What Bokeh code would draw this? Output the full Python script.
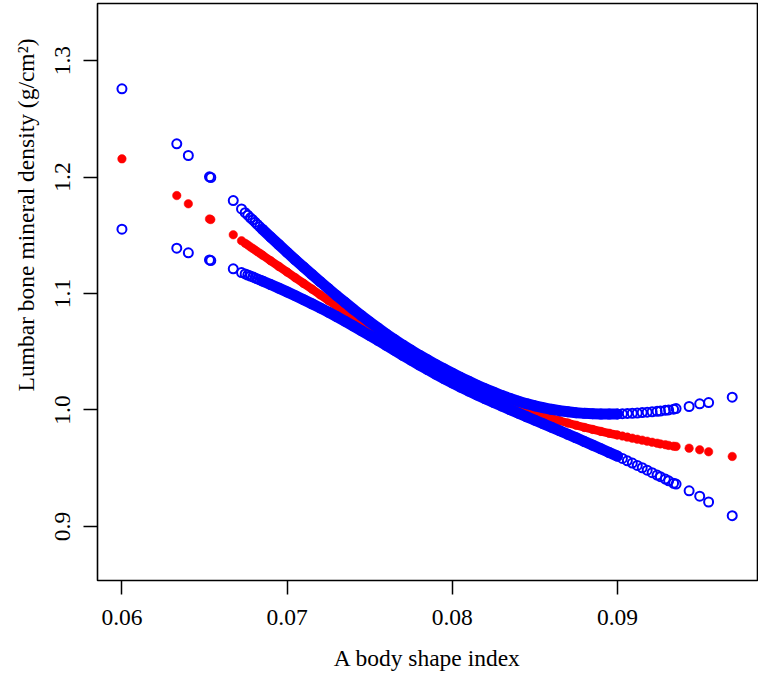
from bokeh.plotting import figure
from bokeh.models import Range1d, FixedTicker, NumeralTickFormatter, Title
from bokeh.embed import file_html
from bokeh.resources import INLINE

# A body shape index (x) and fitted lumbar BMD with 95% confidence limits
absi = [0.06000, 0.06332, 0.06402, 0.06530, 0.06538, 0.06674,
        0.06724, 0.06746, 0.06762, 0.06778, 0.06792, 0.06806, 0.06820, 0.06835,
        0.0685, 0.0690, 0.0695, 0.0700, 0.0705, 0.0710, 0.0715, 0.0720, 0.0725,
        0.0730, 0.0735, 0.0740, 0.0745, 0.0750, 0.0755, 0.0760, 0.0765, 0.0770,
        0.0775, 0.0780, 0.0785, 0.0790, 0.0795, 0.0800, 0.0805, 0.0810, 0.0815,
        0.0820, 0.0825, 0.0830, 0.0835, 0.0840, 0.0845, 0.0850, 0.0855, 0.0860,
        0.0865, 0.0870, 0.0875, 0.0880, 0.0885, 0.0890, 0.0895, 0.0900,
        0.0903, 0.0906, 0.0909, 0.0912, 0.0915, 0.0918, 0.0921, 0.0924, 0.0926,
        0.0929, 0.0931, 0.0934, 0.09355,
        0.09434, 0.09498, 0.09552, 0.09695]

bmd_fit = [1.2156, 1.1841, 1.1770, 1.1640, 1.1635, 1.1504,
           1.1453, 1.1431, 1.1416, 1.1400, 1.1387, 1.1373, 1.1359, 1.1345,
           1.1330, 1.1281, 1.1233, 1.1184, 1.1135, 1.1087, 1.1038, 1.0989, 1.0941,
           1.0892, 1.0843, 1.0794, 1.0746, 1.0698, 1.0651, 1.0604, 1.0559, 1.0514,
           1.0471, 1.0429, 1.0389, 1.0349, 1.0311, 1.0274, 1.0238, 1.0204, 1.0171,
           1.0139, 1.0109, 1.0079, 1.0051, 1.0024, 0.9998, 0.9974, 0.9951, 0.9929,
           0.9908, 0.9888, 0.9869, 0.9850, 0.9833, 0.9816, 0.9800, 0.9785,
           0.9776, 0.9767, 0.9758, 0.9749, 0.9741, 0.9732, 0.9723, 0.9715, 0.9709,
           0.9702, 0.9696, 0.9689, 0.9687,
           0.9672, 0.9658, 0.9641, 0.9601]

bmd_upper = [1.2757, 1.2285, 1.2185, 1.2002, 1.1996, 1.1798,
             1.1726, 1.1694, 1.1673, 1.1650, 1.1632, 1.1612, 1.1593, 1.1573,
             1.1552, 1.1485, 1.1420, 1.1354, 1.1289, 1.1227, 1.1164, 1.1102, 1.1042,
             1.0982, 1.0924, 1.0866, 1.0811, 1.0756, 1.0704, 1.0653, 1.0605, 1.0558,
             1.0514, 1.0471, 1.0431, 1.0391, 1.0353, 1.0316, 1.0280, 1.0246, 1.0213,
             1.0182, 1.0153, 1.0124, 1.0099, 1.0075, 1.0054, 1.0036, 1.0020, 1.0006,
             0.9994, 0.9985, 0.9977, 0.9971, 0.9968, 0.9965, 0.9965, 0.9966,
             0.9968, 0.9970, 0.9972, 0.9974, 0.9978, 0.9981, 0.9984, 0.9989, 0.9991,
             0.9997, 1.0000, 1.0007, 1.0012,
             1.0030, 1.0053, 1.0064, 1.0110]

bmd_lower = [1.1552, 1.1389, 1.1349, 1.1288, 1.1283, 1.1212,
             1.1180, 1.1168, 1.1159, 1.1150, 1.1142, 1.1134, 1.1125, 1.1117,
             1.1108, 1.1077, 1.1046, 1.1014, 1.0981, 1.0947, 1.0912, 1.0876, 1.0840,
             1.0802, 1.0762, 1.0722, 1.0681, 1.0640, 1.0598, 1.0555, 1.0513, 1.0470,
             1.0428, 1.0387, 1.0347, 1.0307, 1.0269, 1.0232, 1.0196, 1.0162, 1.0129,
             1.0096, 1.0065, 1.0034, 1.0003, 0.9973, 0.9942, 0.9912, 0.9882, 0.9852,
             0.9822, 0.9791, 0.9761, 0.9729, 0.9698, 0.9667, 0.9635, 0.9604,
             0.9584, 0.9564, 0.9544, 0.9524, 0.9504, 0.9483, 0.9462, 0.9441, 0.9427,
             0.9407, 0.9392, 0.9371, 0.9364,
             0.9306, 0.9260, 0.9210, 0.9093]

x_ticks = [0.06, 0.07, 0.08, 0.09]
y_ticks = [0.9, 1.0, 1.1, 1.2, 1.3]

# where the markers overlap so densely that they form a solid band
dense_from, dense_to = 0.0685, 0.0900
idx = [i for i, v in enumerate(absi) if dense_from <= v <= dense_to]
dx = [absi[i] for i in idx]
dfit = [bmd_fit[i] for i in idx]
dup = [bmd_upper[i] for i in idx]
dlo = [bmd_lower[i] for i in idx]

FONT = "Liberation Serif"
FSIZE = "23.5px"
BLUE = "#0000FF"
RED = "#FF0000"

p = figure(width=758, height=678, output_backend="svg", toolbar_location=None,
           x_range=Range1d(0.05852, 0.09848), y_range=Range1d(0.8536, 1.349),
           min_border_left=96, min_border_right=1, min_border_top=3,
           min_border_bottom=98)
p.xgrid.visible = False
p.ygrid.visible = False
p.outline_line_color = "black"
p.outline_line_width = 1.6
p.background_fill_color = "white"
p.border_fill_color = "white"

# fitted curve (red, filled dots)
p.line(dx, dfit, line_color=RED, line_width=8.5, line_cap="round", line_join="round")
p.scatter(absi, bmd_fit, size=8.5, marker="circle", fill_color=RED, line_color=RED,
          line_width=0.5)

# confidence limits (blue open circles)
for ys, dys in ((bmd_upper, dup), (bmd_lower, dlo)):
    p.line(dx, dys, line_color=BLUE, line_width=11, line_cap="round",
           line_join="round")
    p.scatter(absi, ys, size=9, marker="circle", fill_color=None,
              line_color=BLUE, line_width=2)

for ax in (p.xaxis[0], p.yaxis[0]):
    ax.axis_line_color = None
    ax.major_tick_line_color = "black"
    ax.major_tick_line_width = 1.5
    ax.major_tick_out = 14
    ax.major_tick_in = 0
    ax.minor_tick_line_color = None
    ax.major_label_text_font = FONT
    ax.major_label_text_font_size = FSIZE
    ax.major_label_text_color = "black"
    ax.axis_label_text_font = FONT
    ax.axis_label_text_font_size = FSIZE
    ax.axis_label_text_font_style = "normal"
    ax.axis_label_text_color = "black"

p.xaxis.ticker = FixedTicker(ticks=x_ticks)
p.yaxis.ticker = FixedTicker(ticks=y_ticks)
p.xaxis.formatter = NumeralTickFormatter(format="0.00")
p.yaxis.formatter = NumeralTickFormatter(format="0.0")
p.yaxis.major_label_orientation = "parallel"
p.xaxis.major_label_standoff = 15
p.yaxis.major_label_standoff = 13
p.xaxis.axis_label = "A body shape index"
p.xaxis.axis_label_standoff = 17

# y-axis title as a side title, placed toward the top as in the original figure
ytitle = Title(text="Lumbar bone mineral density (g/cm\u00b2)", align="right",
               vertical_align="top", offset=35, standoff=24, text_font=FONT,
               text_font_size=FSIZE, text_font_style="normal", text_color="black")
p.add_layout(ytitle, "left")

open("out.html", "w").write(file_html(p, INLINE))
